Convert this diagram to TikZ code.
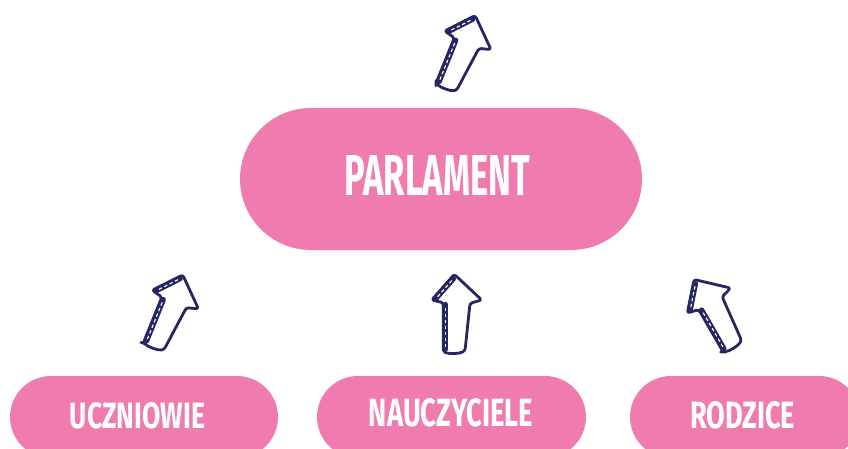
\documentclass[tikz,border=0pt]{standalone}
\usepackage{fontspec}
\setmainfont{Fira Sans}
\usepackage{graphicx}
\definecolor{pinkfill}{RGB}{239,123,175}
\definecolor{navy}{RGB}{38,38,98}
\tikzset{
  pill/.style={fill=pinkfill, draw=none, rectangle, inner sep=0pt},
  lbl/.style={text=white, font=\bfseries, inner sep=0pt},
  arrowline/.style={draw=navy, line width=2.8pt, fill=white, line join=round, rounded corners=2.5pt},
  bandline/.style={draw=navy, line width=5.2pt, line cap=round},
  banddash/.style={draw=white, line width=1.1pt, dash pattern=on 3.5pt off 2.5pt},
  uparrow/.pic={
    \draw[arrowline] (-11.7,-1.7) -- (-11.7,47.3) -- (-23.3,50) -- (-0.7,75.7) -- (26.7,50) -- (15,46.7) -- (10,-0.7) .. controls (4,-4) and (-6,-4) .. cycle;
    \draw[bandline] (-9.4,1) -- (-9.4,45.5);
    \draw[banddash] (-9.4,3) -- (-9.4,44);
    \draw[bandline] (-18.9,51.6) -- (-1.6,71.3);
    \draw[banddash] (-17.4,53.3) -- (-3,69.7);
  }
}
\begin{document}
\begin{tikzpicture}[x=1pt,y=1pt]
\useasboundingbox (0,0) rectangle (848,448);
\clip (0,0) rectangle (848,448);
\fill[white] (0,0) rectangle (848,448);
% pills
\node[pill, minimum width=402pt, minimum height=142pt, rounded corners=71pt] (parl) at (441,269) {};
\node[pill, minimum width=268pt, minimum height=82pt, rounded corners=41pt] (ucz) at (144,31) {};
\node[pill, minimum width=269pt, minimum height=82pt, rounded corners=41pt] (nau) at (451.5,31) {};
\node[pill, minimum width=230pt, minimum height=82pt, rounded corners=41pt] (rod) at (745,31) {};
% labels
\node[lbl] (parlt) at (437.5,273) {\resizebox{185pt}{40pt}{PARLAMENT}};
\node[lbl] (uczt) at (137.5,32) {\resizebox{135pt}{26pt}{UCZNIOWIE}};
\node[lbl] (naut) at (451,35) {\resizebox{164pt}{28pt}{NAUCZYCIELE}};
\node[lbl] (rodt) at (742.5,32.5) {\resizebox{105pt}{27pt}{RODZICE}};
% arrows
\pic (atop) [rotate=-22] at (447.5,362) {uparrow};
\pic (aucz) [rotate=-22] at (155,102.7) {uparrow};
\pic (anau) at (455,98) {uparrow};
\pic (arod) [rotate=30] at (732.5,103.3) {uparrow};
\end{tikzpicture}
\end{document}
